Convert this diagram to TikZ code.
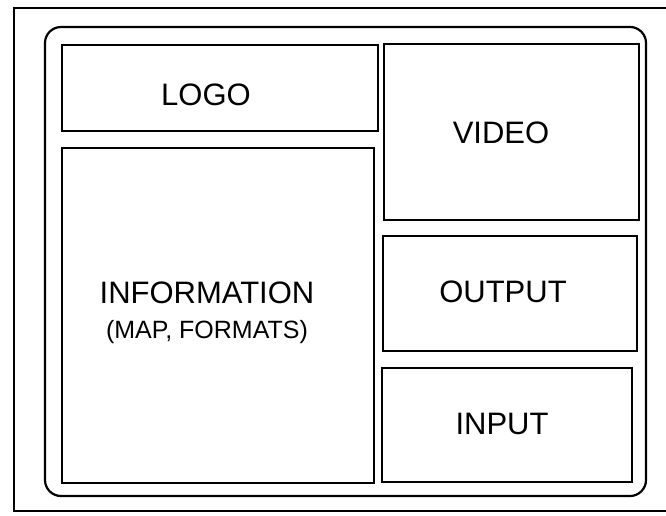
\documentclass[tikz,border=0pt]{standalone}
\usepackage{fontspec}
\setmainfont{Liberation Sans}
\usepackage{tikz}

\begin{document}
\begin{tikzpicture}[x=1pt,y=-1pt,line width=2.2pt,box/.style={draw=black},lbl/.style={anchor=base,inner sep=0pt,font=\fontsize{31}{31}\selectfont},sublbl/.style={lbl,font=\fontsize{25}{25}\selectfont}]
\useasboundingbox (0,0) rectangle (666,515);

\def\fl{45};
\def\ft{27};
\def\fr{646};
\def\fb{496};

% outer sheet
\draw (666,8) -- (14,8) -- (14,511) -- (666,511);

% screen
\draw[rounded corners=16pt] (\fl,\ft) rectangle (\fr,\fb);

\draw[box] (62,45) rectangle (378,131);
\node[lbl] (logo) at (206,105) {LOGO};

\draw[box] (62,148) rectangle (374,483);
\node[lbl] (info) at (207,303) {INFORMATION};
\node[sublbl] (infosub) at (207,338) {(MAP, FORMATS)};

\draw[box] (384,44) rectangle (639,220);
\node[lbl] (video) at (501,143) {VIDEO};

\draw[box] (383,236) rectangle (637,351);
\node[lbl] (output) at (503,302) {OUTPUT};

\draw[box] (382,368) rectangle (632,482);
\node[lbl] (input) at (502,434) {INPUT};
\end{tikzpicture}
\end{document}
